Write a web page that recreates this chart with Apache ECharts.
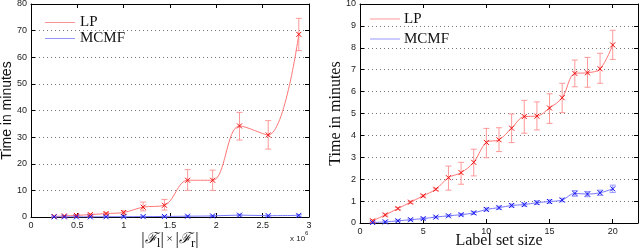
<!DOCTYPE html>
<html><head><meta charset="utf-8">
<script src="https://cdn.jsdelivr.net/npm/echarts@6/dist/echarts.min.js"></script>
<style>html,body{margin:0;padding:0;background:#fff}#c{width:640px;height:250px}</style>
</head><body><div id="c"></div>
<script>
// Left chart: |F_l| x |F_r| (x 10^6)
const leftX = [0.25,0.36,0.49,0.64,0.81,1.0,1.21,1.44,1.69,1.96,2.25,2.56,2.89];
const leftLP = [0.2,0.4,0.6,0.9,1.3,1.7,3.7,4.4,13.8,13.8,34.2,30.8,68.6];
const leftLPlo = [0.1,0.25,0.4,0.6,0.9,1.0,2.3,2.6,10,10,28.9,25.5,62.5];
const leftLPhi = [0.3,0.55,0.8,1.2,1.7,2.3,5.6,6.6,17.8,17.6,39.3,36.2,74.6];
const leftMC = [0.05,0.05,0.05,0.05,0.1,0.1,0.15,0.2,0.3,0.4,0.7,0.5,0.6];
const leftMClo = [0,0,0,0,0,0,0,0,0.1,0.2,0.4,0.3,0.3];
const leftMChi = [0.2,0.2,0.2,0.2,0.3,0.3,0.35,0.4,0.5,0.6,1.0,0.7,0.9];
const leftYTicks = [0,10,20,30,40,50,60,70,80];
const leftXTicks = [0,0.5,1,1.5,2,2.5,3];
// Right chart: label set size
const rightX = [1,2,3,4,5,6,7,8,9,10,11,12,13,14,15,16,17,18,19,20];
const rightLP = [0.1,0.37,0.66,0.95,1.24,1.54,2.07,2.3,2.77,3.68,3.8,4.33,4.86,4.88,5.25,5.72,6.83,6.86,7.04,8.13];
const rightLPlo = [0.05,0.32,0.61,0.9,1.19,1.49,1.5,1.77,2.15,2.98,3.26,3.67,4.1,4.25,4.55,5.04,6.22,6.2,6.38,7.47];
const rightLPhi = [0.15,0.42,0.71,1.0,1.29,1.59,2.6,2.77,3.37,4.32,4.35,4.98,5.6,5.53,5.9,6.38,7.44,7.56,7.75,8.8];
const rightMC = [0.02,0.05,0.1,0.15,0.2,0.27,0.33,0.38,0.46,0.62,0.7,0.8,0.84,0.93,0.98,1.05,1.35,1.32,1.38,1.56];
const rightMClo = [0,0.01,0.06,0.11,0.16,0.23,0.29,0.33,0.39,0.55,0.63,0.73,0.77,0.85,0.9,0.97,1.22,1.2,1.26,1.39];
const rightMChi = [0.04,0.09,0.14,0.19,0.24,0.31,0.37,0.43,0.53,0.69,0.77,0.87,0.91,1.01,1.06,1.13,1.48,1.44,1.5,1.73];
const rightYTicks = [0,1,2,3,4,5,6,7,8,9,10];
const rightXTicks = [0,5,10,15,20];
const legendNames = ['LP', 'MCMF'];

const LPLINE = '#ff7777', LPMARK = '#ee1111', LPERR = '#ff9999', LPLEG = '#ffaaaa';
const MCLINE = '#7777ff', MCMARK = '#1111ee', MCERR = '#9999ff', MCLEG = '#aaaaff';
const XSYM = 'path://M0,0L10,10M10,0L0,10';
const serif = 'Liberation Serif';
const sans = 'Liberation Sans';

function zip(a, b) { return a.map((v, i) => [v, b[i]]); }
function zip3(a, b, c) { return a.map((v, i) => [v, b[i], c[i]]); }

function errSeries(idx, data, color) {
  return {
    type: 'custom', xAxisIndex: idx, yAxisIndex: idx, silent: true, z: 3,
    data: data,
    renderItem: function (params, api) {
      const x = api.value(0);
      const lo = api.coord([x, api.value(1)]);
      const hi = api.coord([x, api.value(2)]);
      const w = 3;
      const st = { stroke: color, lineWidth: 1, fill: null };
      return { type: 'group', children: [
        { type: 'line', shape: { x1: lo[0], y1: lo[1], x2: hi[0], y2: hi[1] }, style: st },
        { type: 'line', shape: { x1: lo[0]-w, y1: lo[1], x2: lo[0]+w, y2: lo[1] }, style: st },
        { type: 'line', shape: { x1: hi[0]-w, y1: hi[1], x2: hi[0]+w, y2: hi[1] }, style: st }
      ]};
    }
  };
}
function lineSeries(idx, name, data, lc, mc) {
  return {
    type: 'line', name: name, xAxisIndex: idx, yAxisIndex: idx, data: data,
    smooth: 0.35, symbol: XSYM, symbolSize: 5, z: 4,
    lineStyle: { color: lc, width: 1 },
    itemStyle: { color: mc, borderColor: mc, borderWidth: 1 },
    emphasis: { disabled: true }
  };
}

function xAxes(idx, min, max, interval, showMax) {
  return [
    { type: 'value', gridIndex: idx, min: min, max: max, interval: interval, position: 'bottom',
      nameMoveOverlap: false,
      axisLine: { onZero: false, lineStyle: { color: '#000', width: 1 } },
      axisTick: { inside: true, length: 4, lineStyle: { color: '#000' } },
      axisLabel: { color: '#222', fontFamily: sans, fontSize: 9, margin: 4, showMaxLabel: showMax },
      splitLine: { show: false } },
    { type: 'value', gridIndex: idx, min: min, max: max, interval: interval, position: 'top',
      axisLine: { onZero: false, lineStyle: { color: '#000', width: 1 } },
      axisTick: { inside: true, length: 4, lineStyle: { color: '#000' } },
      axisLabel: { show: false }, splitLine: { show: false } }
  ];
}
function yAxes(idx, min, max, interval) {
  return [
    { type: 'value', gridIndex: idx, min: min, max: max, interval: interval, position: 'left',
      nameMoveOverlap: false,
      axisLine: { onZero: false, lineStyle: { color: '#000', width: 1 } },
      axisTick: { inside: true, length: 4, lineStyle: { color: '#000' } },
      axisLabel: { color: '#222', fontFamily: sans, fontSize: 9, margin: 4 },
      splitLine: { show: true, lineStyle: { color: '#777', type: [1, 3], width: 1 } } },
    { type: 'value', gridIndex: idx, min: min, max: max, interval: interval, position: 'right',
      axisLine: { onZero: false, lineStyle: { color: '#000', width: 1 } },
      axisTick: { inside: true, length: 4, lineStyle: { color: '#000' } },
      axisLabel: { show: false }, splitLine: { show: false } }
  ];
}

const lx = xAxes(0, leftXTicks[0], leftXTicks[leftXTicks.length-1], 0.5, true);
lx[0].name = '{t||}{f|ℱ}{s|l}{t||}{x| × }{t||}{f|ℱ}{s|r}{t||}';
lx[0].nameLocation = 'middle'; lx[0].nameGap = 12;
lx[0].nameTextStyle = { color: '#111', rich: {
  t: { fontFamily: serif, fontSize: 17, color: '#111' },
  x: { fontFamily: serif, fontSize: 11, color: '#111' },
  f: { fontFamily: 'DejaVu Serif', fontSize: 15, fontStyle: 'italic', color: '#111' },
  s: { fontFamily: serif, fontSize: 13, color: '#111', verticalAlign: 'bottom', padding: [8,0,0,0] } } };
const rx = xAxes(1, 0, 22, 5, false);
rx[0].name = 'Label set size'; rx[0].nameLocation = 'middle'; rx[0].nameGap = 10;
rx[0].nameTextStyle = { fontFamily: serif, fontSize: 16, color: '#111' };
const ly = yAxes(0, leftYTicks[0], leftYTicks[leftYTicks.length-1], 10);
ly[0].name = 'Time in minutes'; ly[0].nameLocation = 'middle'; ly[0].nameGap = 17;
ly[0].nameTextStyle = { fontFamily: sans, fontSize: 14, color: '#111' };
const ry = yAxes(1, rightYTicks[0], rightYTicks[rightYTicks.length-1], 1);
ry[0].name = 'Time in minutes'; ry[0].nameLocation = 'middle'; ry[0].nameGap = 16;
ry[0].nameTextStyle = { fontFamily: serif, fontSize: 16, color: '#111' };

const xAxisArr = [lx[0], rx[0], lx[1], rx[1]];
const yAxisArr = [ly[0], ry[0], ly[1], ry[1]];

// right-chart legend drawn as graphic (line sample + text)
function legendGraphic(x, y, spacing) {
  const cols = [LPLEG, MCLEG];
  const out = [];
  legendNames.forEach((n, i) => {
    const yy = y + i * spacing;
    out.push({ type: 'line', silent: true, shape: { x1: x, y1: yy, x2: x + 30, y2: yy },
      style: { stroke: cols[i], lineWidth: 1.2 } });
    out.push({ type: 'text', silent: true, x: x + 34, y: yy,
      style: { text: n, fontFamily: serif, fontSize: 15, fill: '#111', verticalAlign: 'middle', align: 'left' } });
  });
  return out;
}

const chart = echarts.init(document.getElementById('c'), null, { renderer: 'canvas' });
chart.setOption({
  animation: false,
  backgroundColor: '#fff',
  grid: [
    { left: 31, top: 4, width: 278, height: 213, outerBoundsMode: 'none', containLabel: false },
    { left: 360, top: 4, width: 278, height: 219, outerBoundsMode: 'none', containLabel: false }
  ],
  legend: [{
    left: 40, top: 10, orient: 'vertical', itemWidth: 30, itemHeight: 1, itemGap: 1, icon: 'rect',
    data: legendNames,
    itemStyle: { opacity: 0.45, borderWidth: 0 },
    textStyle: { fontFamily: serif, fontSize: 15, color: '#111' }, selectedMode: false
  }],
  xAxis: xAxisArr,
  yAxis: yAxisArr,
  graphic: [
    { type: 'text', left: 290, top: 235, style: { text: 'x 10', fontFamily: sans, fontSize: 8, fill: '#222' } },
    { type: 'text', left: 305, top: 230, style: { text: '6', fontFamily: sans, fontSize: 6, fill: '#222' } }
  ].concat(legendGraphic(370, 19, 20)),
  series: [
    errSeries(0, zip3(leftX, leftLPlo, leftLPhi), LPERR),
    errSeries(0, zip3(leftX, leftMClo, leftMChi), MCERR),
    lineSeries(0, 'LP', zip(leftX, leftLP), LPLINE, LPMARK),
    lineSeries(0, 'MCMF', zip(leftX, leftMC), MCLINE, MCMARK),
    errSeries(1, zip3(rightX, rightLPlo, rightLPhi), LPERR),
    errSeries(1, zip3(rightX, rightMClo, rightMChi), MCERR),
    lineSeries(1, 'LP (b)', zip(rightX, rightLP), LPLINE, LPMARK),
    lineSeries(1, 'MCMF (b)', zip(rightX, rightMC), MCLINE, MCMARK)
  ]
});
</script></body></html>
